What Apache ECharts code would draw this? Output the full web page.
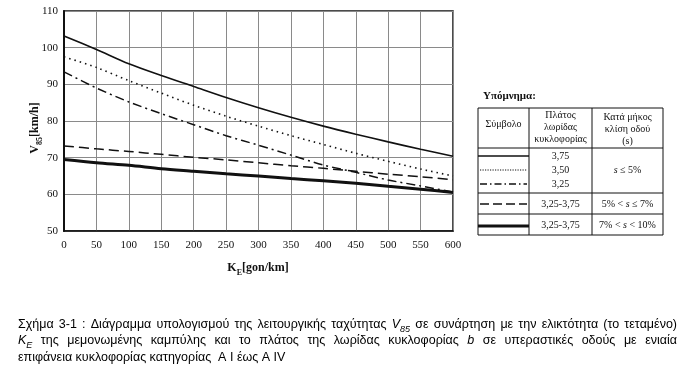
<!DOCTYPE html>
<html>
<head>
<meta charset="utf-8">
<script src="https://cdn.jsdelivr.net/npm/echarts@6/dist/echarts.min.js"></script>
<style>
html,body{margin:0;padding:0;background:#fff;}
#chart{width:689px;height:373px;}
</style>
</head>
<body>
<div id="chart"></div>
<script>
// ---- data ----
const kE = [0, 50, 100, 150, 200, 250, 300, 350, 400, 450, 500, 550, 600];
const v375 = [103.2, 99.5, 95.6, 92.4, 89.4, 86.4, 83.6, 81.0, 78.6, 76.4, 74.3, 72.3, 70.4];
const v350 = [97.5, 94.6, 91.0, 87.6, 84.3, 81.3, 78.6, 76.0, 73.6, 71.2, 69.0, 66.9, 65.0];
const v325 = [93.4, 89.0, 85.2, 82.0, 79.0, 76.0, 73.4, 70.7, 68.0, 66.0, 63.9, 62.3, 60.6];
const vDash = [73.2, 72.4, 71.7, 70.9, 70.1, 69.4, 68.6, 67.8, 67.1, 66.3, 65.5, 64.8, 64.0];
const vThick = [69.5, 68.6, 67.9, 67.0, 66.3, 65.6, 65.0, 64.3, 63.7, 63.0, 62.2, 61.4, 60.5];
const xTicks = {min: 0, max: 600, interval: 50};
const yTicks = {min: 50, max: 110, interval: 10};

// legend table texts
const legendTitle = 'Υπόμνημα:';
const headSymbol = 'Σύμβολο';
const headWidth = ['Πλάτος', 'λωρίδας', 'κυκλοφορίας'];
const headSlope = ['Κατά μήκος', 'κλίση οδού', '(s)'];
const widthLabels = ['3,75', '3,50', '3,25', '3,25-3,75', '3,25-3,75'];

const serif = '"Liberation Serif", "DejaVu Serif", serif';
const sans = '"Liberation Sans", Arial, sans-serif';
const ink = '#111';

const pairs = v => kE.map((x, i) => [x, v[i]]);

function mkSeries(name, vals, width, type) {
  return {
    name, type: 'line', data: pairs(vals), symbol: 'none', smooth: 0.3,
    lineStyle: {color: ink, width: width, type: type, cap: 'butt'},
    silent: true, animation: false, z: 3
  };
}

// ---- caption layout (justified lines) ----
const measureCtx = document.createElement('canvas').getContext('2d');
function mw(font, t) { measureCtx.font = font; return measureCtx.measureText(t).width; }
const CF = 12.5;
const fN = CF + 'px ' + sans;
const fI = 'italic ' + CF + 'px ' + sans;
const fS = 'italic 9px ' + sans;

function word(t) { return {text: t, w: mw(fN, t), rich: null}; }
function itWord(t) { return {text: '{i|' + t + '}', w: mw(fI, t), rich: true}; }
function subWord(main, sub) { return {text: '{i|' + main + '}{s|' + sub + '}', w: mw(fI, main) + mw(fS, sub), rich: true}; }

const line1 = ['Σχήμα', '3-1', ':', 'Διάγραμμα', 'υπολογισμού', 'της', 'λειτουργικής', 'ταχύτητας'].map(word)
  .concat([subWord('V', '85')])
  .concat(['σε', 'συνάρτηση', 'με', 'την', 'ελικτότητα', '(το', 'τεταμένο)'].map(word));
const line2 = [subWord('K', 'E')]
  .concat(['της', 'μεμονωμένης', 'καμπύλης', 'και', 'το', 'πλάτος', 'της', 'λωρίδας', 'κυκλοφορίας'].map(word))
  .concat([itWord('b')])
  .concat(['σε', 'υπεραστικές', 'οδούς', 'με', 'ενιαία'].map(word));
const line3 = 'επιφάνεια κυκλοφορίας κατηγορίας  A I έως A IV';

const richCap = {
  i: {fontFamily: sans, fontSize: CF, fontStyle: 'italic', fill: '#000', lineHeight: 16, verticalAlign: 'middle'},
  s: {fontFamily: sans, fontSize: 9, fontStyle: 'italic', fill: '#000', lineHeight: 18, verticalAlign: 'bottom'}
};

function justify(words, x0, x1, y) {
  const total = words.reduce((a, w) => a + w.w, 0);
  const gap = (x1 - x0 - total) / (words.length - 1);
  let x = x0;
  const out = [];
  words.forEach(w => {
    const st = {text: w.text, x: x, y: y, fill: '#000', font: fN, textAlign: 'left', textVerticalAlign: 'middle'};
    if (w.rich) st.rich = richCap;
    out.push({type: 'text', silent: true, style: st, z: 10});
    x += w.w + gap;
  });
  return out;
}

// ---- legend table ----
const T = {x0: 478, x1: 663, c1: 529, c2: 592, y0: 108, yh: 148, r1: 193, r2: 214, y1: 235};
function ln(x1, y1, x2, y2, w, dash) {
  return {type: 'line', silent: true, z: 10, shape: {x1, y1, x2, y2},
    style: {stroke: ink, lineWidth: w, lineDash: dash || null}};
}
function tx(t, x, y, opts) {
  return {type: 'text', silent: true, z: 10,
    style: Object.assign({text: t, x, y, fill: ink, font: '10px ' + serif, textAlign: 'center', textVerticalAlign: 'middle'}, opts || {})};
}
const richTab = {
  i: {fontFamily: serif, fontSize: 10, fontStyle: 'italic', fill: ink},
  n: {fontFamily: serif, fontSize: 10, fill: ink}
};
const cx2 = (T.c1 + T.c2) / 2, cx3 = (T.c2 + T.x1) / 2;
const tableEls = [
  tx(legendTitle, T.x0 + 5, 96, {font: 'bold 11px ' + serif, textAlign: 'left'}),
  {type: 'rect', silent: true, z: 10, shape: {x: T.x0, y: T.y0, width: T.x1 - T.x0, height: T.y1 - T.y0},
    style: {fill: null, stroke: ink, lineWidth: 1}},
  ln(T.c1, T.y0, T.c1, T.y1, 1),
  ln(T.c2, T.y0, T.c2, T.y1, 1),
  ln(T.x0, T.yh, T.x1, T.yh, 1),
  ln(T.x0, T.r1, T.x1, T.r1, 1),
  ln(T.x0, T.r2, T.x1, T.r2, 1),
  tx(headSymbol, (T.x0 + T.c1) / 2, 124),
  tx(headWidth[0], cx2, 115), tx(headWidth[1], cx2, 127), tx(headWidth[2], cx2, 139),
  tx(headSlope[0], cx3, 117), tx(headSlope[1], cx3, 129), tx(headSlope[2], cx3, 141),
  tx(widthLabels[0], cx2, 156), tx(widthLabels[1], cx2, 170), tx(widthLabels[2], cx2, 184),
  tx(widthLabels[3], cx2, 204), tx(widthLabels[4], cx2, 225),
  tx('{i|s}{n| ≤ 5%}', cx3, 170, {rich: richTab}),
  tx('{n|5% < }{i|s}{n| ≤ 7%}', cx3, 204, {rich: richTab}),
  tx('{n|7% < }{i|s}{n| < 10%}', cx3, 225, {rich: richTab}),
  ln(T.x0, 156, T.c1, 156, 1.3),
  ln(T.x0 + 2, 170, T.c1 - 2, 170, 1.2, [1.2, 1.3]),
  ln(T.x0 + 2, 184, T.c1 - 2, 184, 1.3, [7, 3, 1.5, 3]),
  ln(T.x0 + 2, 204, T.c1 - 2, 204, 1.3, [9, 4]),
  ln(T.x0, 226, T.c1, 226, 3)
];

const axisNames = [
  {type: 'text', silent: true, z: 10, x: 35, y: 128, rotation: Math.PI / 2,
    style: {text: '{a|V}{s|85}{a|[km/h]}', textAlign: 'center', textVerticalAlign: 'middle',
      rich: {a: {fontFamily: serif, fontWeight: 'bold', fontSize: 12, fill: ink, lineHeight: 16, verticalAlign: 'middle'},
             s: {fontFamily: serif, fontWeight: 'bold', fontSize: 8, fill: ink, lineHeight: 18, verticalAlign: 'bottom'}}}},
  {type: 'text', silent: true, z: 10,
    style: {text: '{a|K}{s|E}{a|[gon/km]}', x: 258, y: 268, textAlign: 'center', textVerticalAlign: 'middle',
      rich: {a: {fontFamily: serif, fontWeight: 'bold', fontSize: 12, fill: ink, lineHeight: 16, verticalAlign: 'middle'},
             s: {fontFamily: serif, fontWeight: 'bold', fontSize: 8, fill: ink, lineHeight: 18, verticalAlign: 'bottom'}}}}
];

const captionEls = []
  .concat(justify(line1, 18, 677, 325))
  .concat(justify(line2, 18, 677, 341))
  .concat([{type: 'text', silent: true, z: 10,
    style: {text: line3, x: 18, y: 358, fill: '#000', font: fN, textAlign: 'left', textVerticalAlign: 'middle'}}]);

const chart = echarts.init(document.getElementById('chart'), null, {renderer: 'canvas'});
chart.setOption({
  animation: false,
  backgroundColor: '#fff',
  grid: {left: 64, right: 236, top: 11, bottom: 142, show: true, borderColor: ink, borderWidth: 1.5, containLabel: false},
  xAxis: {
    type: 'value', min: xTicks.min, max: xTicks.max, interval: xTicks.interval,
    axisLine: {show: true, onZero: false, lineStyle: {color: ink, width: 1.5}},
    axisTick: {show: false},
    axisLabel: {color: ink, fontFamily: serif, fontSize: 11, margin: 9},
    splitLine: {show: true, lineStyle: {color: '#8a8a8a', width: 1}}
  },
  yAxis: {
    type: 'value', min: yTicks.min, max: yTicks.max, interval: yTicks.interval,
    axisLine: {show: true, onZero: false, lineStyle: {color: ink, width: 2}},
    axisTick: {show: false},
    axisLabel: {color: ink, fontFamily: serif, fontSize: 11, margin: 6},
    splitLine: {show: true, lineStyle: {color: '#8a8a8a', width: 1}}
  },
  series: [
    mkSeries('3,75', v375, 1.6, 'solid'),
    mkSeries('3,50', v350, 1.6, [1.5, 4]),
    mkSeries('3,25', v325, 1.5, [9, 4, 2, 4]),
    mkSeries('3,25-3,75 (5-7%)', vDash, 1.5, [10, 5]),
    mkSeries('3,25-3,75 (7-10%)', vThick, 3, 'solid')
  ],
  graphic: {elements: tableEls.concat(axisNames).concat(captionEls)}
});
</script>
</body>
</html>
